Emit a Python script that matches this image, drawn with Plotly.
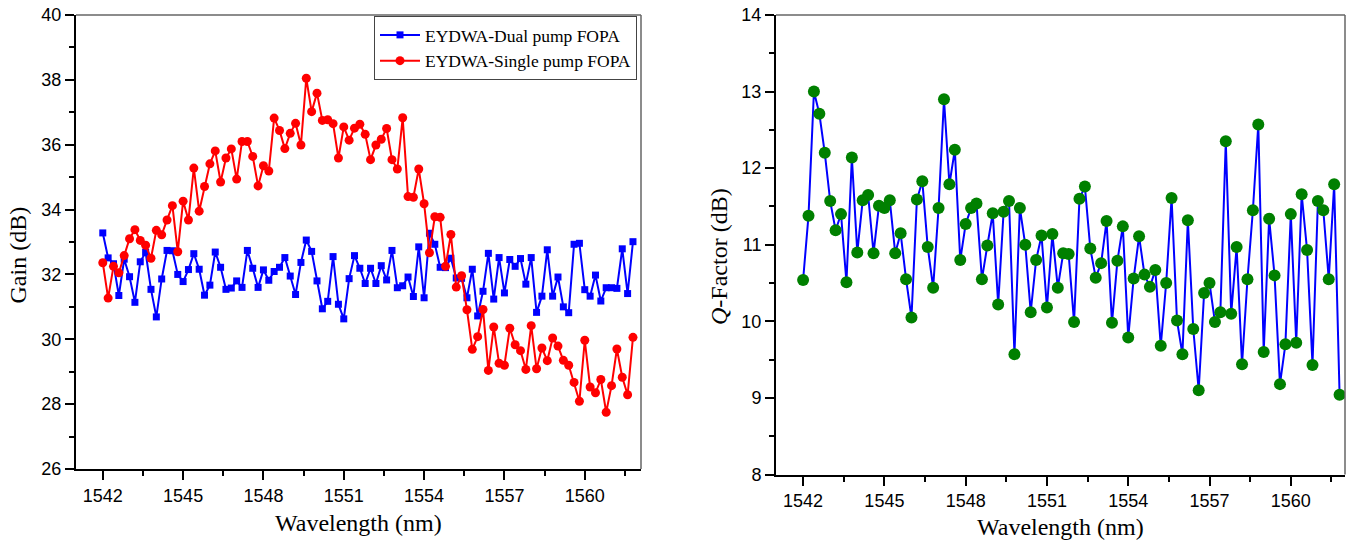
import plotly.graph_objects as go

# ---------------- data ----------------
wavelength = [
    1542.0, 1542.2, 1542.4, 1542.6, 1542.8, 1543.0, 1543.2, 1543.4, 1543.6, 1543.8,
    1544.0, 1544.2, 1544.4, 1544.6, 1544.8, 1545.0, 1545.2, 1545.4, 1545.6, 1545.8,
    1546.0, 1546.2, 1546.4, 1546.6, 1546.8, 1547.0, 1547.2, 1547.4, 1547.6, 1547.8,
    1548.0, 1548.2, 1548.4, 1548.6, 1548.8, 1549.0, 1549.2, 1549.4, 1549.6, 1549.8,
    1550.0, 1550.2, 1550.4, 1550.6, 1550.8, 1551.0, 1551.2, 1551.4, 1551.6, 1551.8,
    1552.0, 1552.2, 1552.4, 1552.6, 1552.8, 1553.0, 1553.2, 1553.4, 1553.6, 1553.8,
    1554.0, 1554.2, 1554.4, 1554.6, 1554.8, 1555.0, 1555.2, 1555.4, 1555.6, 1555.8,
    1556.0, 1556.2, 1556.4, 1556.6, 1556.8, 1557.0, 1557.2, 1557.4, 1557.6, 1557.8,
    1558.0, 1558.2, 1558.4, 1558.6, 1558.8, 1559.0, 1559.2, 1559.4, 1559.6, 1559.8,
    1560.0, 1560.2, 1560.4, 1560.6, 1560.8, 1561.0, 1561.2, 1561.4, 1561.6, 1561.8,
]

gain_dual = [
    33.28, 32.51, 32.33, 31.35, 32.47, 31.93, 31.14, 32.39, 32.68, 31.54,
    30.69, 31.86, 32.74, 32.73, 32.00, 31.78, 32.15, 32.64, 32.16, 31.36,
    31.67, 32.69, 32.22, 31.54, 31.58, 31.80, 31.60, 32.74, 32.19, 31.60,
    32.14, 31.82, 32.09, 32.22, 32.52, 31.95, 31.38, 32.37, 33.06, 32.71,
    31.80, 30.94, 31.17, 32.55, 31.08, 30.63, 31.87, 32.58, 32.19, 31.72,
    32.19, 31.72, 32.27, 31.83, 32.74, 31.59, 31.65, 31.92, 31.32, 32.85,
    31.28, 33.27, 32.93, 32.22, 32.21, 32.50, 31.89, 31.88, 31.28, 32.16,
    30.72, 31.48, 32.65, 31.24, 32.52, 31.43, 32.46, 32.25, 32.49, 31.70,
    32.52, 30.83, 31.33, 32.76, 31.33, 31.92, 31.00, 30.82, 32.93, 32.96,
    31.53, 31.33, 31.98, 31.18, 31.59, 31.59, 31.57, 32.79, 31.41, 33.01,
]

gain_single = [
    32.36, 31.27, 32.25, 32.05, 32.58, 33.10, 33.38, 33.05, 32.90, 32.50,
    33.36, 33.22, 33.68, 34.12, 32.70, 34.26, 33.68, 35.28, 33.95, 34.71,
    35.41, 35.81, 34.85, 35.59, 35.87, 34.94, 36.10, 36.10, 35.64, 34.73,
    35.35, 35.19, 36.82, 36.44, 35.88, 36.35, 36.66, 35.99, 38.05, 37.02,
    37.59, 36.75, 36.77, 36.65, 35.59, 36.55, 36.14, 36.51, 36.63, 36.32,
    35.54, 35.99, 36.17, 36.50, 35.54, 35.25, 36.83, 34.40, 34.38, 35.25,
    34.18, 32.67, 33.78, 33.76, 32.25, 33.23, 31.61, 31.96, 30.91, 29.69,
    30.08, 30.92, 29.04, 30.38, 29.26, 29.20, 30.34, 29.83, 29.65, 29.07,
    30.42, 29.09, 29.73, 29.34, 30.04, 29.79, 29.35, 29.20, 28.67, 28.09,
    29.97, 28.53, 28.35, 28.76, 27.75, 28.57, 29.70, 28.83, 28.29, 30.06,
]

q_factor = [
    10.54, 11.38, 13.00, 12.71, 12.20, 11.57, 11.19, 11.40, 10.51, 12.14,
    10.90, 11.58, 11.65, 10.89, 11.51, 11.48, 11.58, 10.89, 11.15, 10.55,
    10.05, 11.59, 11.83, 10.97, 10.44, 11.48, 12.90, 11.79, 12.24, 10.80,
    11.27, 11.48, 11.54, 10.55, 10.99, 11.41, 10.22, 11.43, 11.57, 9.57,
    11.48, 11.00, 10.12, 10.80, 11.12, 10.18, 11.14, 10.44, 10.89, 10.88,
    9.99, 11.60, 11.76, 10.95, 10.57, 10.76, 11.31, 9.98, 10.79, 11.24,
    9.79, 10.56, 11.11, 10.61, 10.45, 10.67, 9.68, 10.50, 11.61, 10.01,
    9.57, 11.32, 9.90, 9.10, 10.37, 10.50, 9.99, 10.12, 12.35, 10.10,
    10.97, 9.44, 10.55, 11.45, 12.57, 9.60, 11.34, 10.60, 9.18, 9.70,
    11.40, 9.72, 11.66, 10.93, 9.43, 11.57, 11.45, 10.55, 11.79, 9.04,
]

x_ticks = [1542, 1545, 1548, 1551, 1554, 1557, 1560]
gain_ticks = [26, 28, 30, 32, 34, 36, 38, 40]
q_ticks = [8, 9, 10, 11, 12, 13, 14]

# ---------------- layout constants ----------------
W, H = 1349, 541
SANS = "Liberation Sans, Arial, sans-serif"
SERIF = "Liberation Serif, Times New Roman, serif"


def px_x(p):
    return p / W


def px_y(p):
    return 1 - p / H


fig = go.Figure()

fig.add_trace(go.Scatter(
    x=wavelength, y=gain_dual, mode="lines+markers",
    name="EYDWA-Dual pump FOPA",
    line=dict(color="#0000FF", width=2),
    marker=dict(symbol="square", size=7, color="#0000FF", line=dict(width=0)),
    xaxis="x", yaxis="y",
))
fig.add_trace(go.Scatter(
    x=wavelength, y=gain_single, mode="lines+markers",
    name="EYDWA-Single pump FOPA",
    line=dict(color="#FF0000", width=2),
    marker=dict(symbol="circle", size=9, color="#FF0000", line=dict(width=0)),
    xaxis="x", yaxis="y",
))
fig.add_trace(go.Scatter(
    x=wavelength, y=q_factor, mode="lines+markers",
    name="Q-Factor", showlegend=False,
    line=dict(color="#0000FF", width=2),
    marker=dict(symbol="circle", size=12, color="#008000", line=dict(width=0)),
    xaxis="x2", yaxis="y2",
))

xcommon = dict(
    tickmode="array", tickvals=x_ticks, automargin=False,
    ticks="outside", ticklen=9, tickwidth=2, tickcolor="black",
    showline=True, linecolor="black", linewidth=2, mirror=False,
    showgrid=False, zeroline=False,
    tickfont=dict(family=SANS, size=18, color="black"),
    minor=dict(ticks="outside", ticklen=5, tickwidth=2, tickcolor="black",
               tick0=1540.5, dtick=1.5, showgrid=False),
)
ycommon = dict(
    ticks="outside", ticklen=9, tickwidth=2, tickcolor="black", automargin=False,
    showline=True, linecolor="black", linewidth=2, mirror=False,
    showgrid=False, zeroline=False,
    tickfont=dict(family=SANS, size=18, color="black"),
)

fig.update_layout(
    width=W, height=H,
    margin=dict(l=0, r=0, t=0, b=0, autoexpand=False),
    paper_bgcolor="white", plot_bgcolor="white",
    xaxis=dict(domain=[px_x(76), px_x(641)], anchor="y", range=[1541.0, 1562.1], **xcommon),
    yaxis=dict(domain=[px_y(469), px_y(15)], anchor="x", range=[26, 40],
               tickmode="array", tickvals=gain_ticks,
               minor=dict(ticks="outside", ticklen=5, tickwidth=2, tickcolor="black",
                          tick0=27, dtick=2, showgrid=False),
               **ycommon),
    xaxis2=dict(domain=[px_x(776), px_x(1345)], anchor="y2", range=[1541.0, 1562.0], **xcommon),
    yaxis2=dict(domain=[px_y(474.5), px_y(15)], anchor="x2", range=[8, 14],
                tickmode="array", tickvals=q_ticks,
                minor=dict(ticks="outside", ticklen=5, tickwidth=2, tickcolor="black",
                           tick0=8.5, dtick=1, showgrid=False),
                **ycommon),
    legend=dict(
        x=px_x(637), y=px_y(16), xanchor="right", yanchor="top",
        bgcolor="white", bordercolor="#444", borderwidth=1,
        font=dict(family=SERIF, size=17.5, color="black"),
        tracegroupgap=0, itemwidth=40,
    ),
    showlegend=True,
)

# top / right frame lines (thin gray)
for xr, yr in (("x domain", "y domain"), ("x2 domain", "y2 domain")):
    fig.add_shape(type="line", xref=xr, yref=yr, x0=0, x1=1, y0=1, y1=1,
                  line=dict(color="#666", width=1.5))
    fig.add_shape(type="line", xref=xr, yref=yr, x0=1, x1=1, y0=0, y1=1,
                  line=dict(color="#666", width=1.5))

# axis titles
titles = [
    ("Gain (dB)", 17.5, 255, -90),
    ("<i>Q</i>-Factor (dB)", 719, 257, -90),
    ("Wavelength (nm)", 358, 523, 0),
    ("Wavelength (nm)", 1060, 527, 0),
]
for text, x, y, ang in titles:
    fig.add_annotation(text=text, x=px_x(x), y=px_y(y), xref="paper", yref="paper",
                       xanchor="center", yanchor="middle", showarrow=False,
                       textangle=ang, font=dict(family=SERIF, size=24, color="black"))

fig.write_html("out.html")
